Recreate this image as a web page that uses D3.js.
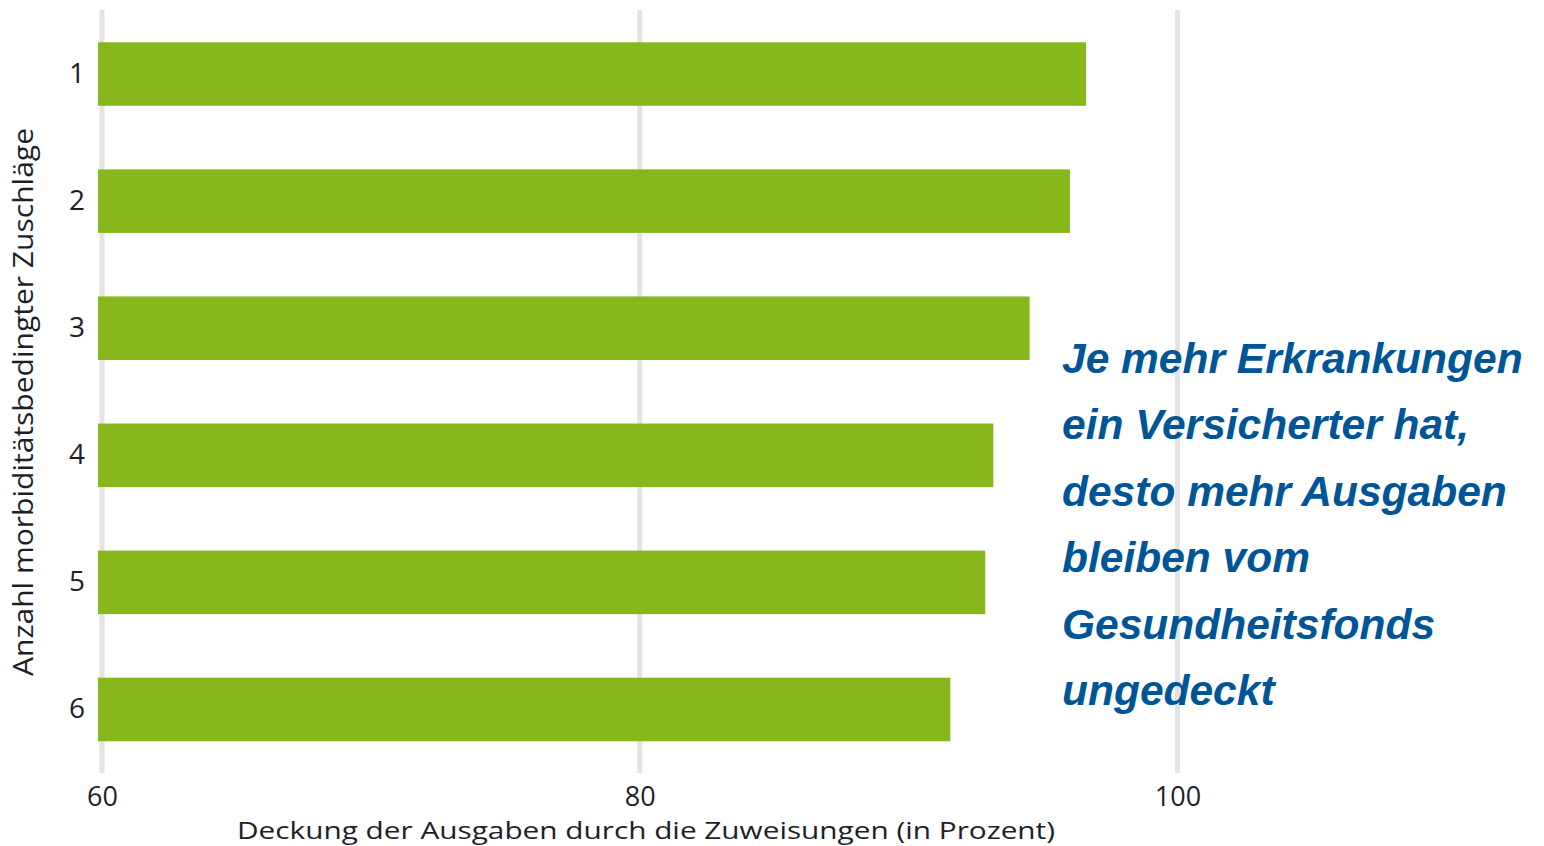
<!DOCTYPE html>
<html>
<head>
<meta charset="utf-8">
<script src="https://cdn.jsdelivr.net/npm/d3@7"></script>
<style>
  body { margin: 0; background: #fff; }
  svg { display: block; }
</style>
</head>
<body>
<svg id="chart" width="1544" height="846"></svg>
<script>
// data
var categories = ["1", "2", "3", "4", "5", "6"];
var coverage = [96.6, 96.0, 94.5, 93.15, 92.85, 91.55];
var xTicks = [60, 80, 100];
var note = ["Je mehr Erkrankungen", "ein Versicherter hat,", "desto mehr Ausgaben",
            "bleiben vom", "Gesundheitsfonds", "ungedeckt"];

var svg = d3.select("#chart");
var axisFont = "'Open Sans', 'Noto Sans', sans-serif";
var ink = "#1e1e28";

// 60 sits at 102px, 100 at 1177.5px; the panel starts a bit left of 60
var x = d3.scaleLinear().domain([60, 100]).range([102, 1177.5]);
var x0 = x.invert(98);

var y = d3.scaleBand().domain(categories).range([10.5, 773]).paddingInner(0.5).paddingOuter(0.25);

// gridlines
svg.append("g").selectAll("line")
  .data(xTicks)
  .enter().append("line")
  .attr("x1", function(d){ return x(d); })
  .attr("x2", function(d){ return x(d); })
  .attr("y1", 10)
  .attr("y2", 773)
  .attr("stroke", "#e4e4e4")
  .attr("stroke-width", 5);

// bars
svg.append("g").selectAll("rect")
  .data(categories)
  .enter().append("rect")
  .attr("x", x(x0))
  .attr("y", function(d){ return y(d); })
  .attr("width", function(d, i){ return x(coverage[i]) - x(x0); })
  .attr("height", y.bandwidth())
  .attr("fill", "#86b81b");

// x axis labels
var xAxis = d3.axisBottom(x).tickValues(xTicks).tickSize(0).tickPadding(0);
var gx = svg.append("g").attr("transform", "translate(0,787)").call(xAxis);
gx.select(".domain").remove();
gx.selectAll("text")
  .attr("font-family", axisFont)
  .attr("font-size", 27)
  .attr("fill", ink)
  .attr("dy", "0.71em");

// y axis labels
var yAxis = d3.axisLeft(y).tickSize(0).tickPadding(0);
var gy = svg.append("g").attr("transform", "translate(85,0)").call(yAxis);
gy.select(".domain").remove();
gy.selectAll("text")
  .attr("font-family", axisFont)
  .attr("font-size", 28)
  .attr("fill", ink);

// axis titles
svg.append("text")
  .attr("x", 646)
  .attr("y", 838.5)
  .attr("text-anchor", "middle")
  .attr("font-family", axisFont)
  .attr("font-size", 24.5)
  .attr("textLength", 818)
  .attr("lengthAdjust", "spacingAndGlyphs")
  .attr("fill", ink)
  .text("Deckung der Ausgaben durch die Zuweisungen (in Prozent)");

svg.append("text")
  .attr("transform", "translate(33,402) rotate(-90)")
  .attr("text-anchor", "middle")
  .attr("font-family", axisFont)
  .attr("font-size", 28)
  .attr("textLength", 548)
  .attr("lengthAdjust", "spacingAndGlyphs")
  .attr("fill", ink)
  .text("Anzahl morbiditätsbedingter Zuschläge");

// annotation
svg.append("g").selectAll("text")
  .data(note)
  .enter().append("text")
  .attr("x", 1062)
  .attr("y", function(d, i){ return 372.5 + i * 66.5; })
  .attr("font-family", "'Liberation Sans', Arial, sans-serif")
  .attr("font-weight", "bold")
  .attr("font-style", "italic")
  .attr("font-size", 42.5)
  .attr("fill", "#005596")
  .text(function(d){ return d; });
</script>
</body>
</html>
